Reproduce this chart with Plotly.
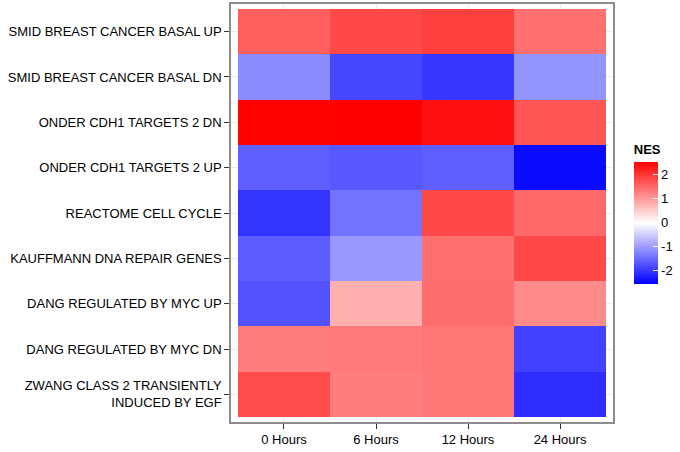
import plotly.graph_objects as go

hours = ["0 Hours", "6 Hours", "12 Hours", "24 Hours"]
gene_sets = [
    "SMID BREAST CANCER BASAL UP",
    "SMID BREAST CANCER BASAL DN",
    "ONDER CDH1 TARGETS 2 DN",
    "ONDER CDH1 TARGETS 2 UP",
    "REACTOME CELL CYCLE",
    "KAUFFMANN DNA REPAIR GENES",
    "DANG REGULATED BY MYC UP",
    "DANG REGULATED BY MYC DN",
    "ZWANG CLASS 2 TRANSIENTLY<br>INDUCED BY EGF",
]
nes_0h = [1.60, -1.15, 2.52, -1.60, -2.03, -1.63, -1.73, 1.30, 1.80]
nes_6h = [1.83, -1.85, 2.55, -1.67, -1.40, -1.03, 0.80, 1.33, 1.30]
nes_12h = [1.93, -2.00, 2.40, -1.60, 1.83, 1.43, 1.45, 1.37, 1.35]
nes_24h = [1.43, -1.07, 1.70, -2.45, 1.50, 1.83, 1.17, -1.90, -2.10]
legend_ticks = [-2, -1, 0, 1, 2]
legend_labels = ["-2", "-1", "0", "1", "2"]

cols = [nes_0h, nes_6h, nes_12h, nes_24h]
z = [[cols[j][i] for j in range(len(hours))] for i in range(len(gene_sets))]

fig = go.Figure(go.Heatmap(
    z=z,
    x=list(range(len(hours))),
    y=list(range(len(gene_sets))),
    colorscale=[[0, "#0000ff"], [0.5, "#ffffff"], [1, "#ff0000"]],
    zmid=0,
    colorbar=dict(
        title=dict(text="<b>NES</b>", side="top", font=dict(size=13, color="#000")),
        thickness=24, thicknessmode="pixels",
        len=142, lenmode="pixels",
        x=1.0545, xanchor="left", xpad=0,
        y=0.331, yanchor="bottom", ypad=0,
        tickvals=legend_ticks, ticktext=legend_labels,
        ticks="inside", ticklen=5, tickcolor="white",
        tickfont=dict(size=13, color="#000"),
        outlinewidth=0,
    ),
    hoverinfo="skip",
))

ex = 0.076
ey = 0.11
fig.update_layout(
    width=680, height=452,
    margin=dict(l=231, r=64, t=2, b=30),
    paper_bgcolor="white", plot_bgcolor="white",
    font=dict(family="Liberation Sans, Arial, sans-serif", size=13, color="#000"),
    xaxis=dict(
        tickvals=list(range(len(hours))), ticktext=hours,
        range=[-0.5 - ex, len(hours) - 0.5 + ex],
        showgrid=True, gridcolor="#ebebeb", gridwidth=1,
        showline=True, mirror=True, linecolor="#8c8c8c", linewidth=1.5,
        ticks="outside", ticklen=5, tickcolor="#333", tickwidth=1,
        zeroline=False,
        tickfont=dict(size=13, color="#000"),
    ),
    yaxis=dict(
        tickvals=list(range(len(gene_sets))), ticktext=gene_sets,
        range=[len(gene_sets) - 0.5 + ey, -0.5 - ey],
        showgrid=True, gridcolor="#ebebeb", gridwidth=1,
        showline=True, mirror=True, linecolor="#8c8c8c", linewidth=1.5,
        ticks="outside", ticklen=5, tickcolor="#333", tickwidth=1,
        zeroline=False,
        tickfont=dict(size=13, color="#000"),
    ),
)

fig.write_html("out.html", config={"displayModeBar": False},
               post_script="document.body.style.margin='0px';")
